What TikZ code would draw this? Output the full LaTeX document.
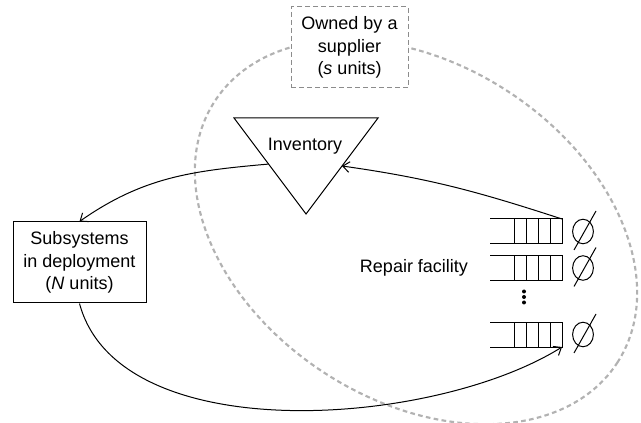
\documentclass[tikz,border=0pt]{standalone}
\usepackage{fontspec}
\setmainfont{Liberation Sans}
\usetikzlibrary{arrows.meta,calc}
\begin{document}
\begin{tikzpicture}[x=0.75pt,y=-0.75pt,
  font=\fontsize{13.5}{17}\selectfont,
  line width=0.75pt,
  ownbox/.style={draw=black!45, dash pattern=on 3.5pt off 2.5pt, fill=white, align=center,
    minimum width=87.75pt, minimum height=60.75pt, inner sep=0pt},
  unitbox/.style={draw, fill=white, align=center,
    minimum width=99.75pt, minimum height=60.75pt, inner sep=0pt},
  supplyring/.style={draw=black!30, line width=1.6pt, dash pattern=on 3.5pt off 2.5pt},
  flow/.style={-{Straight Barb[length=5pt,width=8pt]}},
  plain/.style={inner sep=0pt},
  queue/.pic={
    \draw (-72,-12.5) -- (0,-12.5) -- (0,12.5) -- (-72,12.5);
    \foreach \cx in {-12,-24,-36,-48} \draw (\cx,-12.5) -- (\cx,12.5);
    \draw (21,0) ellipse [x radius=7.8pt, y radius=9.2pt];
    \draw (12,18.5) -- (34,-20.5);
    \coordinate (-tr) at (0,-12.5);
    \coordinate (-br) at (0,12.5);
  }]
\useasboundingbox (0,0) rectangle (641,423);

% supplier ring
\draw[supplyring, rotate around={-33:(416,232)}] (416,232) ellipse [x radius=180pt, y radius=126pt];

% supplier box
\node[ownbox] (supplier) at (349.5,47.5) {Owned by a\\supplier\\(\textit{s} units)};

% deployment box
\node[unitbox] (units) at (79.5,262.5) {Subsystems\\in deployment\\(\textit{N} units)};

% inventory triangle
\coordinate (invTL) at (234,118);
\coordinate (invTR) at (378,118);
\coordinate (invB) at (306,214);
\draw[line join=miter] (invTL) -- (invTR) -- (invB) -- cycle;
\node[plain] (invlabel) at (305,146) {Inventory};
\coordinate (invR) at ($(invTR)!0.5!(invB)$);
\coordinate (invL) at ($(invTL)!0.48!(invB)$);

% repair facility
\pic (q1) at (562,231.5) {queue};
\pic (q2) at (562,268) {queue};
\pic (q3) at (562,334.5) {queue};
\foreach \dy in {291.5,297,302.5} \fill (524,\dy) circle [radius=1.5pt];
\node[plain] (repair) at (414,268) {Repair facility};

% flows
\draw[flow] (q1-tr) to[out=162,in=-8] (invR);
\draw[flow] (invL) to[out=185,in=35] (units.north);
\draw[flow] (units.south) to[out=-75,in=-148,looseness=0.8] (q3-br);
\end{tikzpicture}
\end{document}
